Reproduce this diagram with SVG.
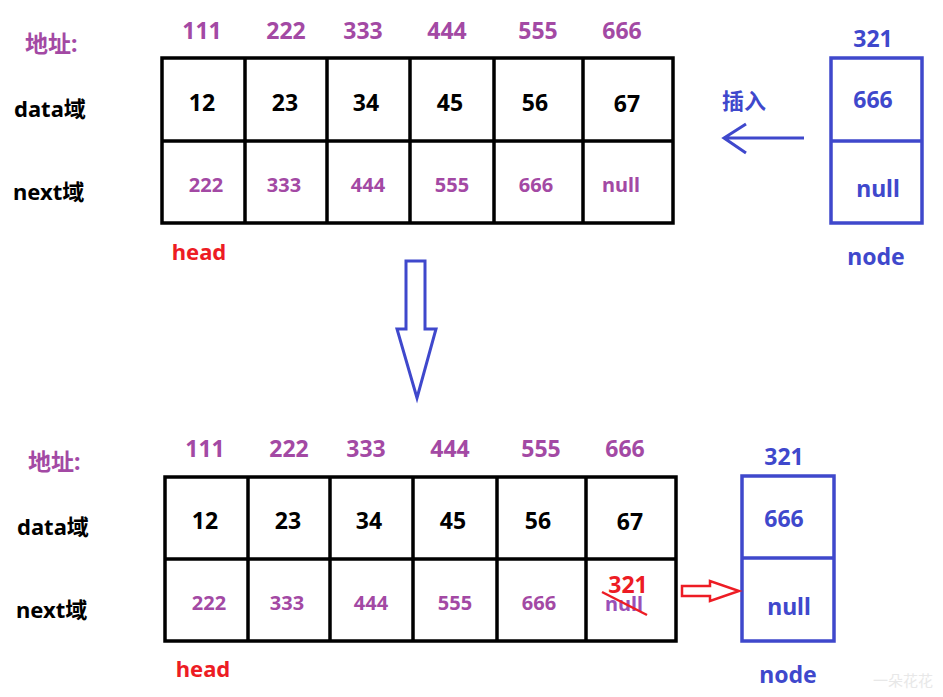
<svg xmlns="http://www.w3.org/2000/svg" width="943" height="697" viewBox="0 0 943 697">
<style>
text{font-family:"Noto Sans","Noto Sans CJK SC",sans-serif;font-weight:bold;text-anchor:middle}
.lab{text-anchor:start;font-size:22px;fill:#000}
.addr{font-size:23px;fill:#a349a4}
.dat{font-size:23px;fill:#000}
.nxt{font-size:20px;fill:#a349a4}
.blue{fill:#3f48cc;font-size:23px}
.red{fill:#ed1c24}
.grid{fill:none;stroke:#000;stroke-width:3.5}
.bgrid{fill:none;stroke:#3f48cc;stroke-width:3.5}
</style>
<rect width="943" height="697" fill="#fff"/>

<g id="top-list">
  <text x="25" y="52" class="lab" style="fill:#a349a4;font-size:23px">地址:</text>
  <text x="14" y="117" class="lab">data域</text>
  <text x="13" y="200" class="lab">next域</text>
  <text x="202" y="39" class="addr">111</text>
  <text x="286" y="39" class="addr">222</text>
  <text x="363" y="39" class="addr">333</text>
  <text x="447" y="39" class="addr">444</text>
  <text x="538" y="39" class="addr">555</text>
  <text x="622" y="39" class="addr">666</text>
  <path class="grid" d="M162 58H673V223H162Z M162 141H673 M245 58V223 M327 58V223 M410 58V223 M494 58V223 M583 58V223"/>
  <text x="202" y="111" class="dat">12</text>
  <text x="285" y="111" class="dat">23</text>
  <text x="366" y="111" class="dat">34</text>
  <text x="450" y="111" class="dat">45</text>
  <text x="535" y="111" class="dat">56</text>
  <text x="627" y="112" class="dat">67</text>
  <text x="206" y="192" class="nxt">222</text>
  <text x="284" y="192" class="nxt">333</text>
  <text x="368" y="192" class="nxt">444</text>
  <text x="452" y="192" class="nxt">555</text>
  <text x="536" y="192" class="nxt">666</text>
  <text x="621" y="192" class="nxt">null</text>
  <text x="199" y="260" class="red" style="font-size:22px">head</text>
</g>

<g id="top-node">
  <text x="873" y="47" class="blue">321</text>
  <path class="bgrid" d="M831 58H922V223H831Z M831 141H922"/>
  <text x="873" y="108" class="blue">666</text>
  <text x="878" y="197" class="blue">null</text>
  <text x="876" y="265" class="blue">node</text>
</g>

<g id="bottom-list">
  <text x="28" y="470" class="lab" style="fill:#a349a4;font-size:23px">地址:</text>
  <text x="17" y="535" class="lab">data域</text>
  <text x="16" y="618" class="lab">next域</text>
  <text x="205" y="457" class="addr">111</text>
  <text x="289" y="457" class="addr">222</text>
  <text x="366" y="457" class="addr">333</text>
  <text x="450" y="457" class="addr">444</text>
  <text x="541" y="457" class="addr">555</text>
  <text x="625" y="457" class="addr">666</text>
  <path class="grid" d="M165 477H676V641H165Z M165 559H676 M248 477V641 M330 477V641 M413 477V641 M497 477V641 M586 477V641"/>
  <text x="205" y="529" class="dat">12</text>
  <text x="288" y="529" class="dat">23</text>
  <text x="369" y="529" class="dat">34</text>
  <text x="453" y="529" class="dat">45</text>
  <text x="538" y="529" class="dat">56</text>
  <text x="630" y="530" class="dat">67</text>
  <text x="209" y="610" class="nxt">222</text>
  <text x="287" y="610" class="nxt">333</text>
  <text x="371" y="610" class="nxt">444</text>
  <text x="455" y="610" class="nxt">555</text>
  <text x="539" y="610" class="nxt">666</text>
  <text x="624" y="611" class="nxt" style="fill:#9a4fb8">null</text>
  <line x1="602" y1="592" x2="647" y2="615" stroke="#ed1c24" stroke-width="2.5"/>
  <text x="628" y="593" class="red" style="font-size:23px">321</text>
  <text x="203" y="677" class="red" style="font-size:22px">head</text>
</g>

<g id="bottom-node">
  <text x="784" y="465" class="blue">321</text>
  <path class="bgrid" d="M742 476H834V641H742Z M742 558H834"/>
  <text x="784" y="527" class="blue">666</text>
  <text x="789" y="615" class="blue">null</text>
  <text x="788" y="683" class="blue">node</text>
</g>

<g id="connectors">
  <text x="744" y="109" class="blue" style="font-size:22px">插入</text>
  <path d="M804 138H724 M746 124L724 138L746 153" fill="none" stroke="#3f48cc" stroke-width="3"/>
  <path d="M406 261H425V329H436L417 398L397 329H406Z" fill="none" stroke="#3f48cc" stroke-width="3"/>
  <path d="M682 586H710V581L739 591L710 601V596H682Z" fill="none" stroke="#ed1c24" stroke-width="2.5"/>
</g>

<text x="903" y="686" style="font-size:15px;fill:#e8e8e8;font-weight:normal;font-family:'Noto Sans CJK SC',sans-serif">一朵花花</text>
</svg>
